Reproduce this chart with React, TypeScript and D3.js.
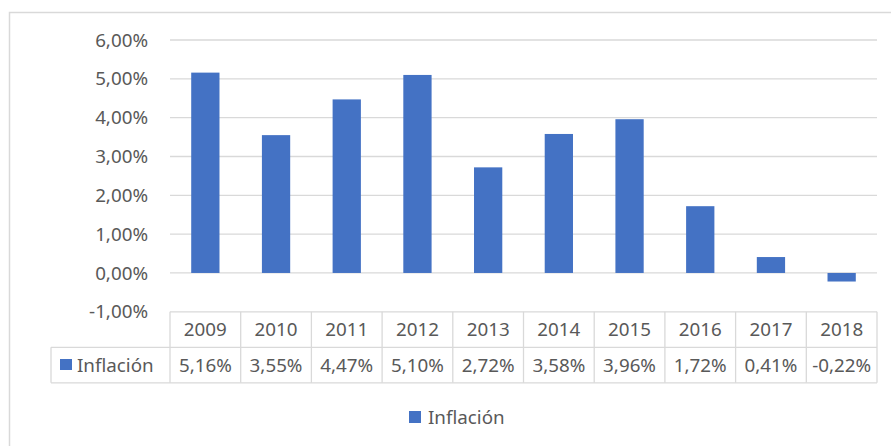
import * as d3 from "d3";
import React from "react";

const years = ["2009", "2010", "2011", "2012", "2013", "2014", "2015", "2016", "2017", "2018"];
const inflacion = [5.16, 3.55, 4.47, 5.1, 2.72, 3.58, 3.96, 1.72, 0.41, -0.22];
const yTicks = [-1, 0, 1, 2, 3, 4, 5, 6];
const seriesName = "Inflación";

const width = 891;
const height = 446;
const font = "'Noto Sans', 'Open Sans', sans-serif";
const textColor = "#595959";
const lineColor = "#d9d9d9";
const barColor = "#4472C4";

const locale = d3.formatLocale({
  decimal: ",",
  thousands: ".",
  grouping: [3],
  currency: ["", "€"],
  minus: "-",
});
const pct = locale.format(".2%");

export default function App() {
  const plotLeft = 170;
  const plotRight = 877;

  const yScale = d3.scaleLinear().domain([-1, 6]).range([311.8, 40]);
  const colScale = d3.scaleBand().domain(years).range([plotLeft, plotRight]);
  const barScale = colScale.copy().paddingInner(0.6).paddingOuter(0.3);

  const tableTop = yScale(-1);
  const rowMid = tableTop + 35.5;
  const tableBottom = tableTop + 71;
  const legendCellLeft = 51;
  const fs = 18.8;

  return (
    <div style={{ position: "fixed", left: 0, top: 0 }}>
      <svg width={width} height={height} style={{ display: "block", background: "#fff" }}>
        {/* chart area border */}
        <path d={`M9.5,${height} V12.5 H${width}`} fill="none" stroke={lineColor} strokeWidth={1.5} />

        {/* gridlines */}
        {yTicks.map((t) => (
          <line
            key={"g" + t}
            x1={plotLeft}
            x2={plotRight}
            y1={yScale(t)}
            y2={yScale(t)}
            stroke={lineColor}
            strokeWidth={1.3}
          />
        ))}

        {/* y labels */}
        {yTicks.map((t) => (
          <text
            key={"l" + t}
            x={148}
            y={yScale(t)}
            dy="0.35em"
            textAnchor="end"
            fontFamily={font}
            fontSize={fs}
            fill={textColor}
          >
            {pct(t / 100)}
          </text>
        ))}

        {/* bars */}
        {inflacion.map((v, i) => (
          <rect
            key={"b" + i}
            x={barScale(years[i])}
            width={barScale.bandwidth()}
            y={yScale(Math.max(0, v))}
            height={Math.abs(yScale(v) - yScale(0))}
            fill={barColor}
          />
        ))}

        {/* data table */}
        <g stroke={lineColor} strokeWidth={1.3} fill="none">
          <line x1={legendCellLeft} x2={plotRight} y1={rowMid} y2={rowMid} />
          <line x1={legendCellLeft} x2={plotRight} y1={tableBottom} y2={tableBottom} />
          <line x1={legendCellLeft} x2={legendCellLeft} y1={rowMid} y2={tableBottom} />
          {years.map((y) => (
            <line key={"c" + y} x1={colScale(y)} x2={colScale(y)} y1={tableTop} y2={tableBottom} />
          ))}
          <line x1={plotRight} x2={plotRight} y1={tableTop} y2={tableBottom} />
        </g>
        {years.map((y) => (
          <text
            key={"h" + y}
            x={(colScale(y) as number) + colScale.bandwidth() / 2}
            y={(tableTop + rowMid) / 2}
            dy="0.35em"
            textAnchor="middle"
            fontFamily={font}
            fontSize={fs}
            fill={textColor}
          >
            {y}
          </text>
        ))}
        {inflacion.map((v, i) => (
          <text
            key={"v" + i}
            x={(colScale(years[i]) as number) + colScale.bandwidth() / 2}
            y={(rowMid + tableBottom) / 2}
            dy="0.35em"
            textAnchor="middle"
            fontFamily={font}
            fontSize={fs}
            fill={textColor}
          >
            {pct(v / 100)}
          </text>
        ))}
        <rect x={60} y={359} width={12} height={11} fill={barColor} />
        <text
          x={77}
          y={(rowMid + tableBottom) / 2}
          dy="0.35em"
          fontFamily={font}
          fontSize={fs}
          fill={textColor}
        >
          {seriesName}
        </text>

        {/* legend */}
        <rect x={409} y={411} width={12} height={12} fill={barColor} />
        <text x={428} y={417} dy="0.35em" fontFamily={font} fontSize={fs} fill={textColor}>
          {seriesName}
        </text>
      </svg>
    </div>
  );
}
